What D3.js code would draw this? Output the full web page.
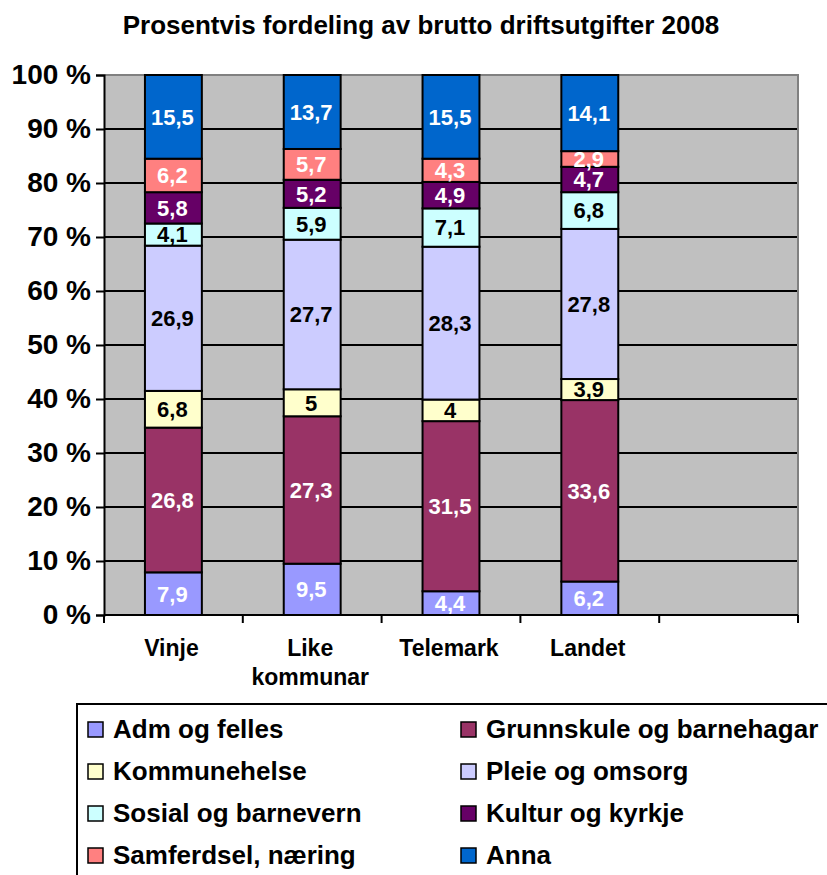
<!DOCTYPE html>
<html>
<head>
<meta charset="utf-8">
<script src="https://cdn.jsdelivr.net/npm/d3@7/dist/d3.min.js"></script>
<style>
    body { margin: 0; background: #fff; }
    svg { font-family: "Liberation Sans", Arial, sans-serif; font-weight: bold; }
</style>
</head>
<body>
<svg width="827" height="875"></svg>
<script>
// data
var categories = ["Vinje", "Like kommunar", "Telemark", "Landet", ""];
var seriesNames = ["Adm og felles", "Grunnskule og barnehagar", "Kommunehelse", "Pleie og omsorg",
    "Sosial og barnevern", "Kultur og kyrkje", "Samferdsel, næring", "Anna"];
var admOgFelles = [7.9, 9.5, 4.4, 6.2];
var grunnskule = [26.8, 27.3, 31.5, 33.6];
var kommunehelse = [6.8, 5, 4, 3.9];
var pleieOgOmsorg = [26.9, 27.7, 28.3, 27.8];
var sosialOgBarnevern = [4.1, 5.9, 7.1, 6.8];
var kulturOgKyrkje = [5.8, 5.2, 4.9, 4.7];
var samferdsel = [6.2, 5.7, 4.3, 2.9];
var anna = [15.5, 13.7, 15.5, 14.1];
var yTicks = [0, 10, 20, 30, 40, 50, 60, 70, 80, 90, 100];

var seriesValues = [admOgFelles, grunnskule, kommunehelse, pleieOgOmsorg,
    sosialOgBarnevern, kulturOgKyrkje, samferdsel, anna];
var colors = ["#9999FF", "#993366", "#FFFFCC", "#CCCCFF", "#CCFFFF", "#660066", "#FF8080", "#0066CC"];
var labelColors = ["#fff", "#fff", "#000", "#000", "#000", "#fff", "#fff", "#fff"];

var svg = d3.select("svg");
var plotLeft = 104, plotRight = 798, plotTop = 75, plotBottom = 615;

var x = d3.scaleBand().domain(categories).range([plotLeft, plotRight]);
var y = d3.scaleLinear().domain([0, 100]).range([plotBottom, plotTop]);
var barW = x.bandwidth() * 0.41;

// title
svg.append("text")
    .attr("x", 421).attr("y", 34)
    .attr("text-anchor", "middle")
    .style("font-size", "26px")
    .text("Prosentvis fordeling av brutto driftsutgifter 2008");

// plot background
svg.append("rect")
    .attr("x", plotLeft).attr("y", plotTop)
    .attr("width", plotRight - plotLeft).attr("height", plotBottom - plotTop)
    .style("fill", "#C0C0C0");

// gridlines
svg.append("g").selectAll("line")
    .data(yTicks.filter(function (d) { return d > 0 && d < 100; }))
    .enter().append("line")
    .attr("x1", plotLeft).attr("x2", plotRight)
    .attr("y1", function (d) { return y(d); })
    .attr("y2", function (d) { return y(d); })
    .style("stroke", "#000").style("stroke-width", "2px");

// plot border top / right
svg.append("path")
    .attr("d", "M" + plotLeft + "," + plotTop + "H" + plotRight + "V" + plotBottom)
    .style("fill", "none").style("stroke", "#808080").style("stroke-width", "2px");

// stacked data
var stack = categories.slice(0, 4).map(function (c, i) {
    var acc = 0;
    return seriesValues.map(function (vals, s) {
        var seg = { cat: c, s: s, v: vals[i], y0: acc, y1: acc + vals[i] };
        acc += vals[i];
        return seg;
    });
});
var segs = [].concat.apply([], stack);

svg.append("g").selectAll("rect")
    .data(segs)
    .enter().append("rect")
    .attr("x", function (d) { return x(d.cat) + (x.bandwidth() - barW) / 2; })
    .attr("y", function (d) { return y(d.y1); })
    .attr("width", barW)
    .attr("height", function (d) { return y(d.y0) - y(d.y1); })
    .style("fill", function (d) { return colors[d.s]; })
    .style("stroke", "#000")
    .style("stroke-width", "2px");

svg.append("g").selectAll("text")
    .data(segs)
    .enter().append("text")
    .attr("x", function (d) { return x(d.cat) + x.bandwidth() / 2 - 1; })
    .attr("y", function (d) { return (y(d.y0) + y(d.y1)) / 2; })
    .attr("dy", "0.36em")
    .attr("text-anchor", "middle")
    .style("font-size", "22px")
    .style("fill", function (d) { return labelColors[d.s]; })
    .text(function (d) { return String(d.v).replace(".", ","); });

// y axis
var yAxis = svg.append("g")
    .attr("transform", "translate(" + plotLeft + ",0)")
    .call(d3.axisLeft(y).tickValues(yTicks).tickSize(8).tickPadding(5)
        .tickFormat(function (d) { return d + " %"; }));
yAxis.select(".domain").style("stroke", "#000").style("stroke-width", "2px");
yAxis.selectAll(".tick line").style("stroke", "#000").style("stroke-width", "2px");
yAxis.selectAll("text")
    .style("font-size", "28px").style("font-family", "Liberation Sans, Arial, sans-serif")
    .style("font-weight", "bold").style("fill", "#000");

// x axis: ticks at category boundaries
svg.append("line")
    .attr("x1", plotLeft).attr("x2", plotRight).attr("y1", plotBottom).attr("y2", plotBottom)
    .style("stroke", "#000").style("stroke-width", "2px");
var bounds = categories.map(function (c) { return x(c); }).concat([plotRight]);
svg.append("g").selectAll("line")
    .data(bounds)
    .enter().append("line")
    .attr("x1", function (d) { return d; }).attr("x2", function (d) { return d; })
    .attr("y1", plotBottom).attr("y2", plotBottom + 8)
    .style("stroke", "#000").style("stroke-width", "2px");

var xl = svg.append("g").selectAll("text")
    .data(categories.filter(function (c) { return c; }))
    .enter().append("text")
    .attr("x", function (d) { return x(d) + x.bandwidth() / 2 - 2; })
    .attr("y", 656)
    .attr("text-anchor", "middle")
    .style("font-size", "23px");
xl.selectAll("tspan")
    .data(function (d) { return d.split(" "); })
    .enter().append("tspan")
    .attr("x", function () { return d3.select(this.parentNode).attr("x"); })
    .attr("dy", function (d, i) { return i ? 29 : 0; })
    .text(function (d) { return d; });

// legend
svg.append("rect")
    .attr("x", 77).attr("y", 704).attr("width", 800).attr("height", 200)
    .style("fill", "#fff").style("stroke", "#000").style("stroke-width", "2px");
var leg = svg.append("g").selectAll("g")
    .data(seriesNames)
    .enter().append("g")
    .attr("transform", function (d, i) {
        return "translate(" + (i % 2 ? 461 : 88) + "," + (729 + Math.floor(i / 2) * 42) + ")";
    });
leg.append("rect")
    .attr("x", 0).attr("y", -7).attr("width", 15).attr("height", 15)
    .style("fill", function (d, i) { return colors[i]; })
    .style("stroke", "#000").style("stroke-width", "1.5px");
leg.append("text")
    .attr("x", 25).attr("dy", "0.36em")
    .style("font-size", "26px")
    .text(function (d) { return d; });
</script>
</body>
</html>
